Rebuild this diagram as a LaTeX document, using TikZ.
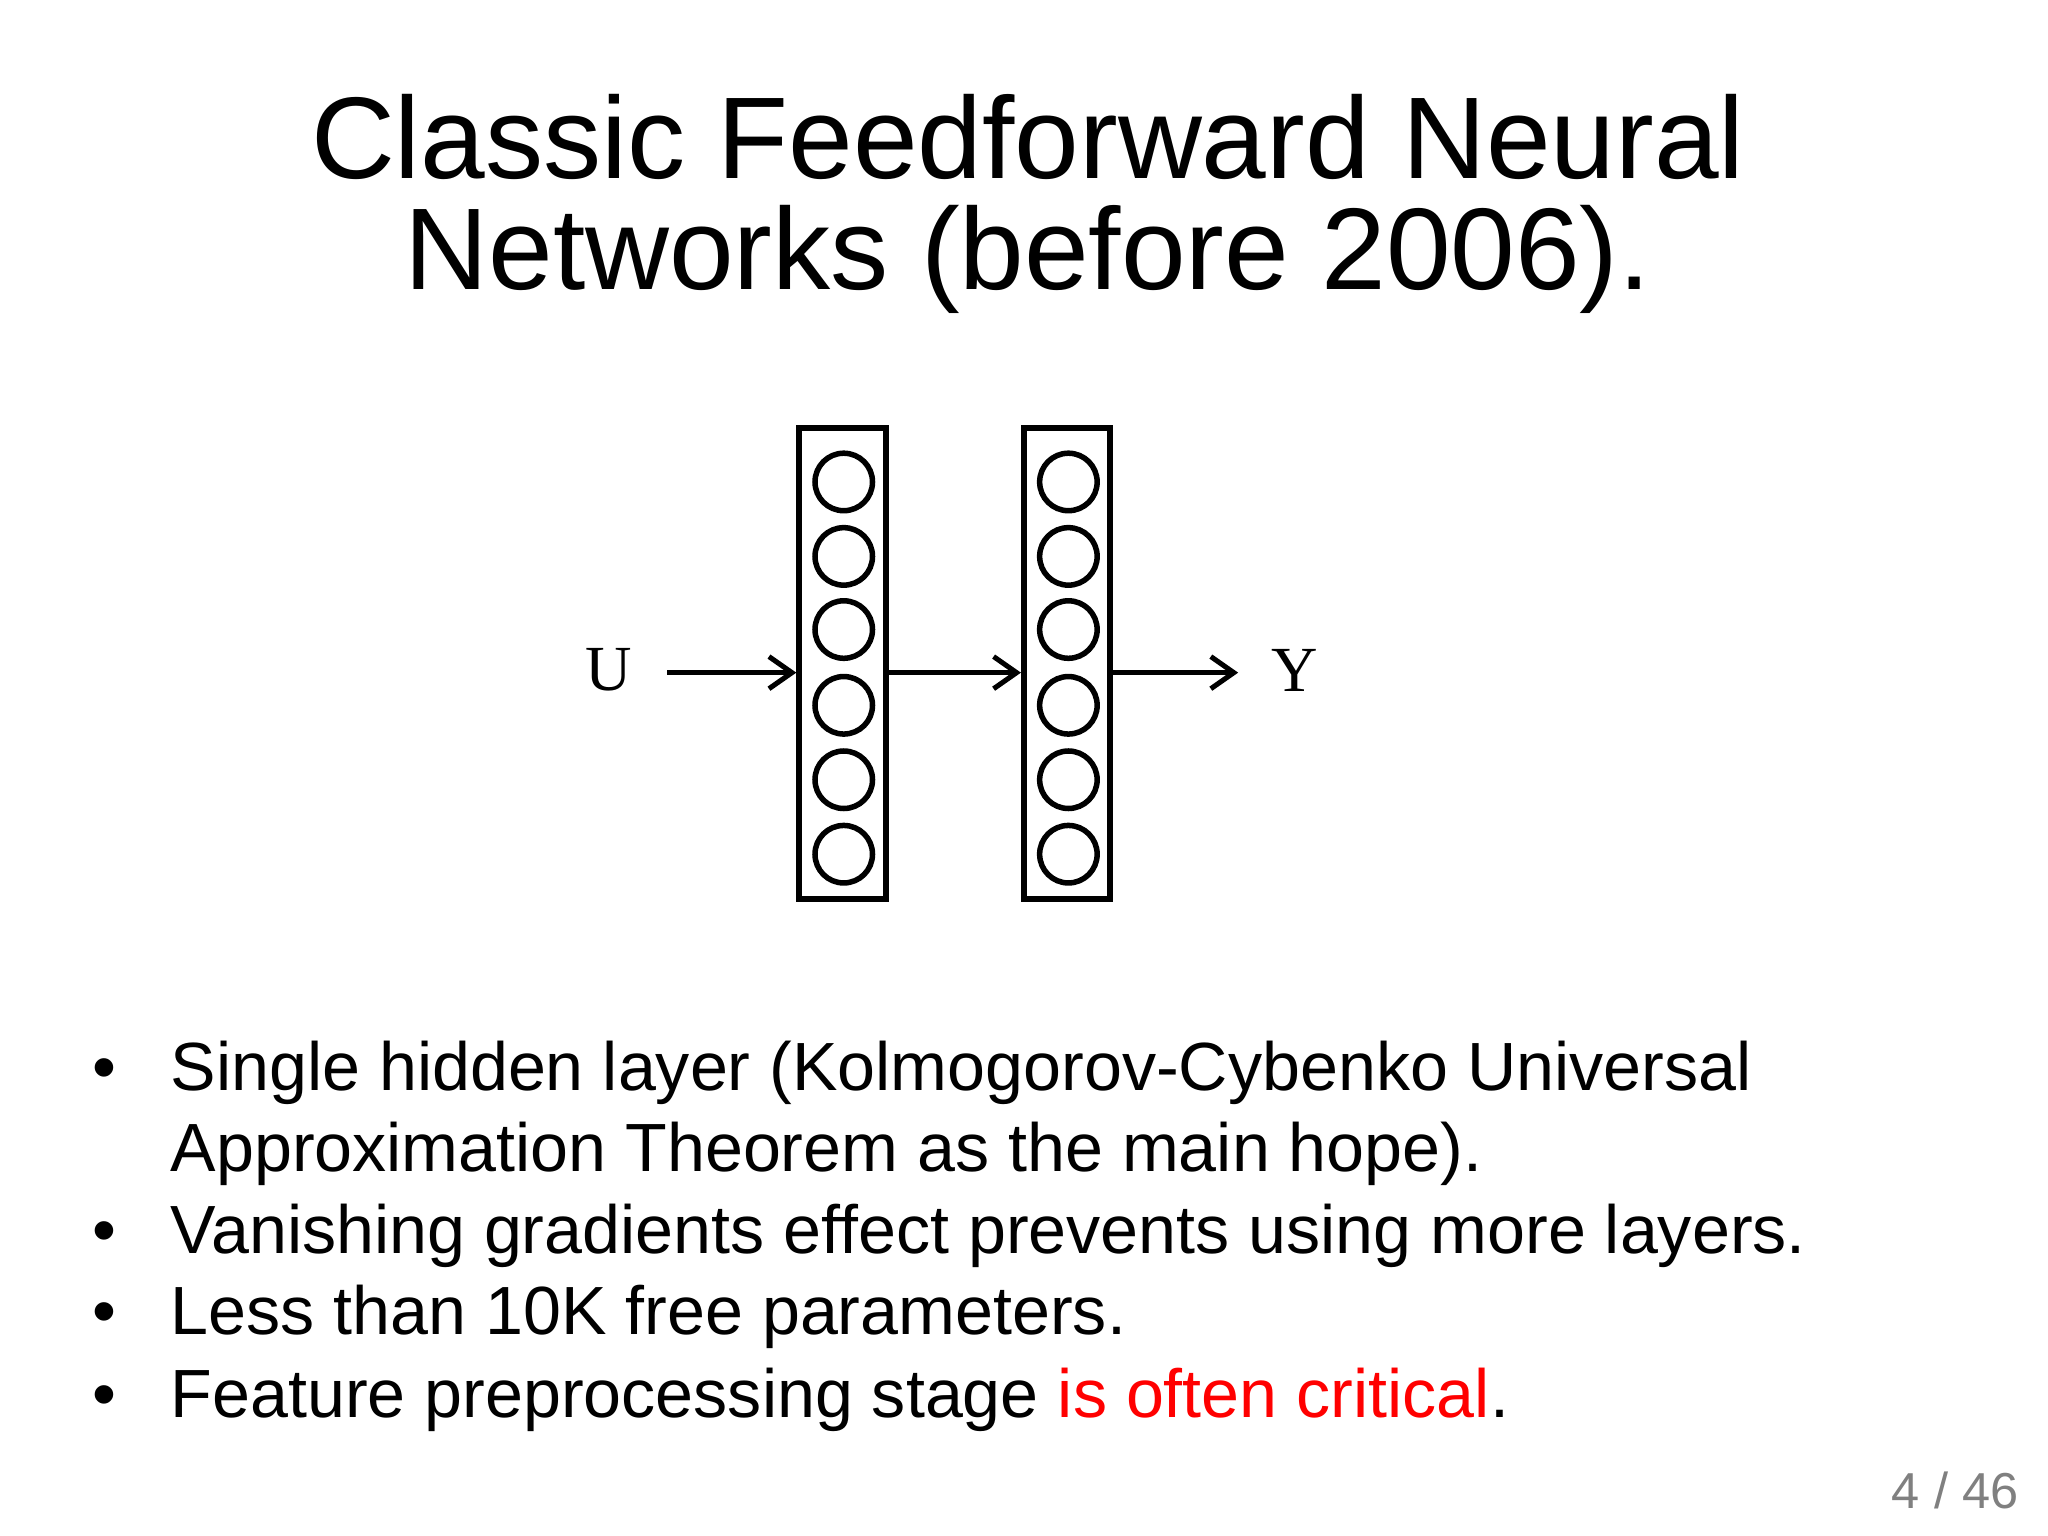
\documentclass[tikz,border=0pt]{standalone}
\usepackage{fontspec}
\setmainfont{Liberation Sans}
\newfontfamily\serifrm{Liberation Serif}
\usetikzlibrary{arrows.meta}
\begin{document}
\begin{tikzpicture}[x=0.01cm,y=-0.01cm,
  layer/.style={draw,line width=1.3pt,minimum width=0.66cm,minimum height=3.6cm,inner sep=0},
  neuron/.style={draw,circle,line width=1.2pt,minimum size=0.44cm,inner sep=0},
  conn/.style={-{Straight Barb[length=5pt,width=7pt]},line width=1.1pt},
  bul/.style={anchor=base west,font=\fontsize{14.85pt}{17pt}\selectfont,inner sep=0}]
\useasboundingbox (0,0) rectangle (1568,1176);
\node[anchor=base,font=\fontsize{25.3pt}{27pt}\selectfont,inner sep=0] (t1) at (787,137) {Classic Feedforward Neural};
\node[anchor=base,font=\fontsize{25.3pt}{27pt}\selectfont,inner sep=0] (t2) at (787,222) {Networks (before 2006).};
\node[layer] (L1) at (645,508) {};
\node[layer] (L2) at (817,508) {};
\foreach \i/\y in {1/369,2/426,3/482,4/540,5/597,6/654}{
  \node[neuron] (a\i) at (646,\y) {};
  \node[neuron] (b\i) at (818,\y) {};
}
\node[font=\serifrm\fontsize{14pt}{16pt}\selectfont] (U) at (466,513) {U};
\node[font=\serifrm\fontsize{14pt}{16pt}\selectfont] (Y) at (991,513) {Y};
\coordinate (us) at (511,515);
\coordinate (ye) at (948,515);
\draw[conn] (us) -- (L1.west|-us);
\draw[conn] (L1.east|-us) -- (L2.west|-us);
\draw[conn] (L2.east|-us) -- (ye);
\foreach \n/\y in {1/835,2/960,3/1022,4/1085}{
  \node[bul] (d\n) at (70,\y) {•};
}
\node[bul] (s1) at (130,835) {Single hidden layer (Kolmogorov-Cybenko Universal};
\node[bul] (s1b) at (130,897) {Approximation Theorem as the main hope).};
\node[bul] (s2) at (130,960) {Vanishing gradients effect prevents using more layers.};
\node[bul] (s3) at (130,1022) {Less than 10K free parameters.};
\node[bul] (s4) at (130,1085) {Feature preprocessing stage \textcolor{red}{is often critical}.};
\node[anchor=base east,font=\fontsize{11pt}{13pt}\selectfont,text=gray,inner sep=0] (pg) at (1546,1155) {4 / 46};
\end{tikzpicture}
\end{document}
